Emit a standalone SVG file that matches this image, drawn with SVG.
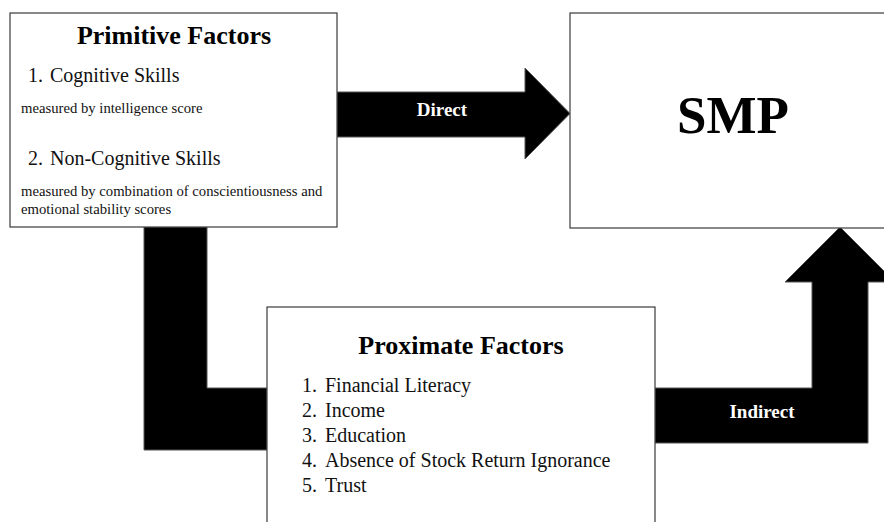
<svg xmlns="http://www.w3.org/2000/svg" width="884" height="522" viewBox="0 0 884 522">
  <style>
    .box { fill: #ffffff; stroke: #3a3a3a; stroke-width: 1.2; }
    .arrow { fill: #000000; stroke: #555555; stroke-width: 1; stroke-linejoin: miter; }
    .title { font-family: "Liberation Serif", "Times New Roman", serif; font-weight: bold; font-size: 26px; fill: #000; text-anchor: middle; }
    .item { font-family: "Liberation Serif", "Times New Roman", serif; font-size: 20px; fill: #111; }
    .note { font-family: "Liberation Serif", "Times New Roman", serif; font-size: 14.7px; fill: #111; }
    .label { font-family: "Liberation Serif", "Times New Roman", serif; font-weight: bold; font-size: 19px; fill: #ffffff; text-anchor: middle; }
  </style>
  <rect width="884" height="522" fill="#ffffff"/>

  <!-- block arrows linking the factor boxes -->
  <g id="connectors">
    <!-- Primitive -> SMP -->
    <path class="arrow" d="M337,92 H525 V68 L570,113.5 L525,159 V137 H337 Z"/>
    <!-- Primitive -> Proximate (elbow) -->
    <path class="arrow" d="M144,227 H207 V388 H267 V450 H144 Z"/>
    <!-- Proximate -> SMP (elbow, up) -->
    <path class="arrow" d="M655,388 H812 V282 H785 L840,227 L895,282 H868 V443 H655 Z"/>
    <text class="label" x="442" y="116">Direct</text>
    <text class="label" x="762" y="418">Indirect</text>
  </g>

  <g id="primitive">
    <rect class="box" x="10" y="13" width="327" height="214"/>
    <text class="title" x="174" y="44">Primitive Factors</text>
    <text class="item" x="28" y="82">1.</text>
    <text class="item" x="50" y="82">Cognitive Skills</text>
    <text class="note" x="21" y="113">measured by intelligence score</text>
    <text class="item" x="28" y="165">2.</text>
    <text class="item" x="50" y="165">Non-Cognitive Skills</text>
    <text class="note" x="21" y="196">measured by combination of conscientiousness and</text>
    <text class="note" x="21" y="214">emotional stability scores</text>
  </g>

  <g id="smp">
    <rect class="box" x="570" y="13" width="330" height="215"/>
    <text class="title" x="733" y="133" style="font-size:53px">SMP</text>
  </g>

  <g id="proximate">
    <rect class="box" x="267" y="307" width="388" height="230"/>
    <text class="title" x="461" y="354">Proximate Factors</text>
    <text class="item" x="302" y="392">1.</text>
    <text class="item" x="325" y="392">Financial Literacy</text>
    <text class="item" x="302" y="417">2.</text>
    <text class="item" x="325" y="417">Income</text>
    <text class="item" x="302" y="442">3.</text>
    <text class="item" x="325" y="442">Education</text>
    <text class="item" x="302" y="467">4.</text>
    <text class="item" x="325" y="467">Absence of Stock Return Ignorance</text>
    <text class="item" x="302" y="492">5.</text>
    <text class="item" x="325" y="492">Trust</text>
  </g>
</svg>
